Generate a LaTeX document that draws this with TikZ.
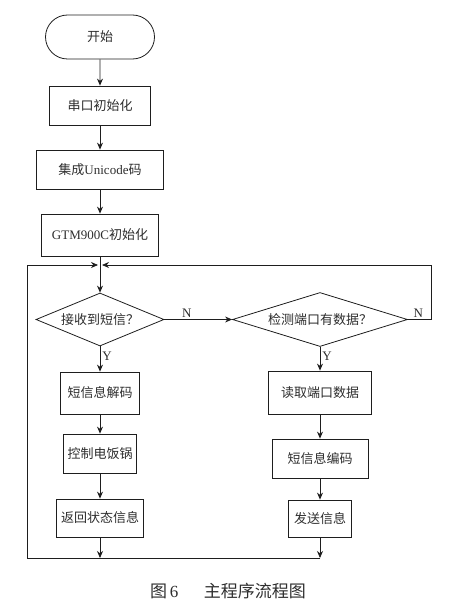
\documentclass[tikz,border=0pt]{standalone}
\usepackage{fontspec}
\setmainfont{Liberation Serif}
\newfontfamily\cjk{Noto Sans CJK SC}
\usetikzlibrary{shapes.geometric,shapes.misc,arrows.meta}
\definecolor{linegray}{RGB}{30,30,30}
\definecolor{textgray}{RGB}{45,45,45}
\newcommand{\zh}[1]{{\cjk #1}}
\tikzset{
    terminal/.style={draw=linegray, rounded rectangle, minimum width=109pt, minimum height=44pt, inner sep=0pt, text=textgray},
    procbox/.style={draw=linegray, rectangle, minimum height=39pt, inner sep=0pt, text=textgray},
    decision/.style={draw=linegray, diamond, aspect=2.5, inner sep=0pt, text=textgray},
    flow/.style={draw=linegray, ->, >={Stealth[length=7pt,width=6pt]}},
    lbl/.style={text=textgray, inner sep=2pt}
}

\begin{document}
\begin{tikzpicture}[x=1pt, y=-1pt, line width=0.8pt, font=\fontsize{13}{15}\selectfont]
    \useasboundingbox (0,0) rectangle (472,607);
    % left column
    \node[terminal] (start) at (100,37) {\zh{开始}};
    \node[procbox, minimum width=101pt] (serial) at (100,105.5) {\zh{串口初始化}};
    \node[procbox, minimum width=127pt] (unicode) at (100,169.5) {\zh{集成}Unicode\zh{码}};
    \node[procbox, minimum width=117pt, minimum height=42pt] (gtm) at (100,235) {GTM900C\zh{初始化}};
    \node[decision, minimum width=128pt, minimum height=53pt] (recv) at (100,319.5) {\zh{接收到短信？}};
    \node[procbox, minimum width=79pt, minimum height=42pt] (decode) at (100,393) {\zh{短信息解码}};
    \node[procbox, minimum width=73pt] (cook) at (100,453.5) {\zh{控制电饭锅}};
    \node[procbox, minimum width=87pt, minimum height=38pt] (status) at (100,518) {\zh{返回状态信息}};
    % right column
    \node[decision, minimum width=175pt, minimum height=54pt] (check) at (320,319.5) {\zh{检测端口有数据？}};
    \node[procbox, minimum width=103pt, minimum height=43pt] (readport) at (320,392.5) {\zh{读取端口数据}};
    \node[procbox, minimum width=96pt] (encode) at (320,458.5) {\zh{短信息编码}};
    \node[procbox, minimum width=63pt, minimum height=37pt] (send) at (320,518.5) {\zh{发送信息}};
    % loop points
    \coordinate (joinL) at (98,265);
    \coordinate (joinR) at (102,265);
    \coordinate (cornerL) at (27,558);
    \coordinate (botL) at (100,558);
    \coordinate (botR) at (320,558);
    \coordinate (turnR) at (431,319.5);

    \draw[flow] (start) -- (serial);
    \draw[flow] (serial) -- (unicode);
    \draw[flow] (unicode) -- (gtm);
    \draw[flow] (gtm) -- (recv);
    \draw[flow] (recv) -- node[lbl, above, pos=0.33] {N} (check);
    \draw[flow] (recv) -- node[lbl, right, pos=0.4] {Y} (decode);
    \draw[flow] (decode) -- (cook);
    \draw[flow] (cook) -- (status);
    \draw[flow] (status) -- (botL);
    \draw[flow] (check) -- node[lbl, right, pos=0.4] {Y} (readport);
    \draw[flow] (readport) -- (encode);
    \draw[flow] (encode) -- (send);
    \draw[flow] (send) -- (botR);
    \draw[flow] (botR) -- (cornerL) |- (joinL);
    \draw[flow] (check.east) -- node[lbl, above, pos=0.45] {N} (turnR) |- (joinR);

    \node[text=textgray] (caption) at (228,591) {\fontsize{17}{19}\selectfont\zh{图}\,6\hspace{1.5em}\zh{主程序流程图}};
\end{tikzpicture}
\end{document}
